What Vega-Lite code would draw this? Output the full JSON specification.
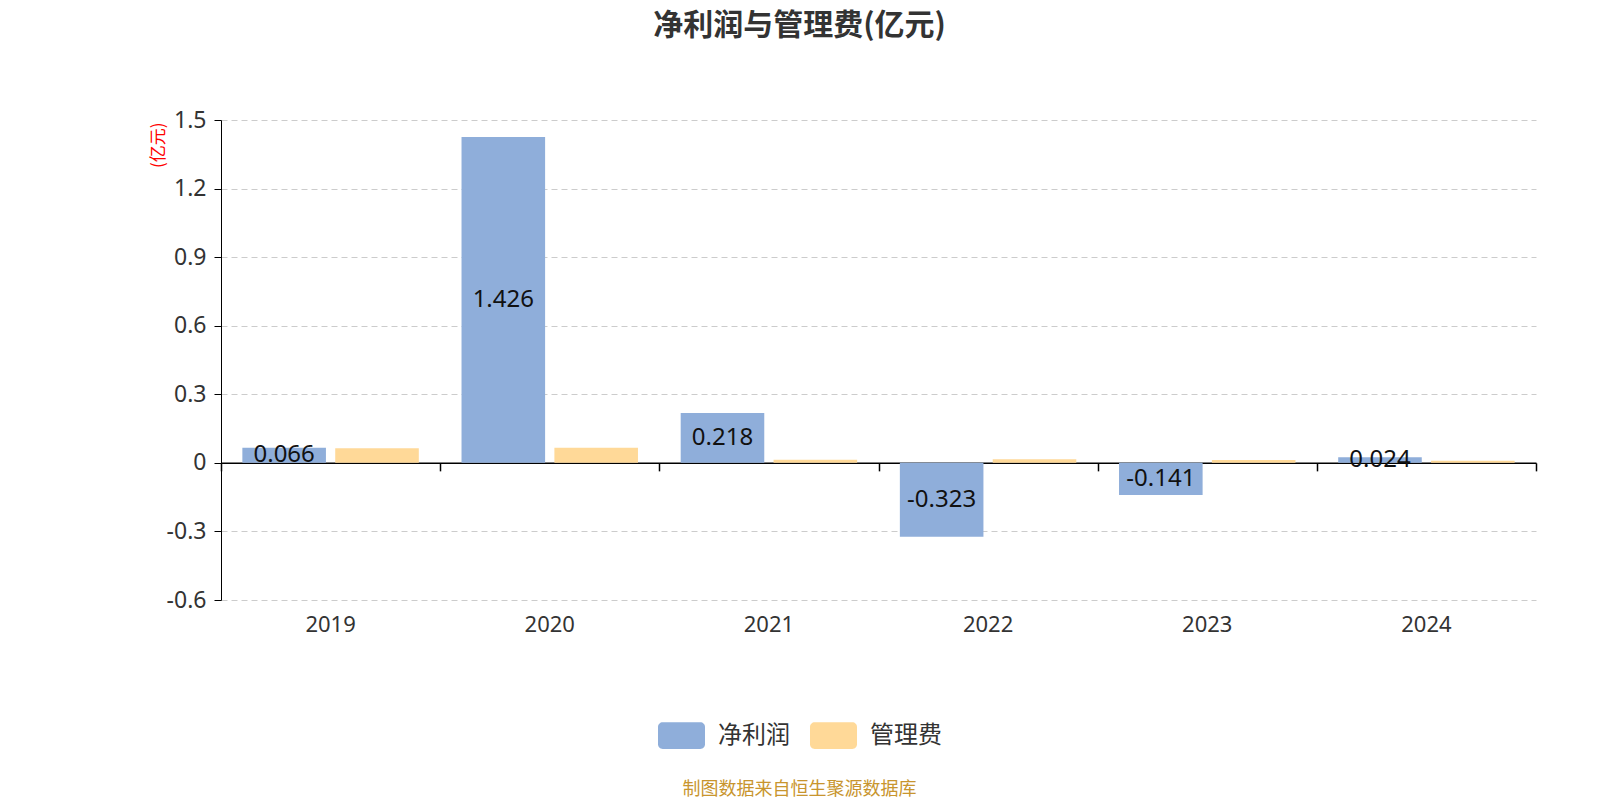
{
  "$schema": "https://vega.github.io/schema/vega-lite/v6.json",
  "width": 1315,
  "height": 480,
  "autosize": {"type": "none"},
  "padding": {"left": 221, "top": 120, "right": 64, "bottom": 200},
  "background": "white",
  "title": {
    "text": "净利润与管理费(亿元)",
    "font": "Noto Sans CJK SC",
    "fontSize": 30,
    "fontWeight": "bold",
    "color": "#333333",
    "anchor": "middle",
    "dx": -79,
    "offset": 68
  },
  "config": {
    "view": {"stroke": null},
    "font": "Noto Sans CJK SC"
  },
  "data": {
    "values": [
      {"year": "2019", "series": "净利润", "value": 0.066},
      {"year": "2019", "series": "管理费", "value": 0.064},
      {"year": "2020", "series": "净利润", "value": 1.426},
      {"year": "2020", "series": "管理费", "value": 0.066},
      {"year": "2021", "series": "净利润", "value": 0.218},
      {"year": "2021", "series": "管理费", "value": 0.014},
      {"year": "2022", "series": "净利润", "value": -0.323},
      {"year": "2022", "series": "管理费", "value": 0.016},
      {"year": "2023", "series": "净利润", "value": -0.141},
      {"year": "2023", "series": "管理费", "value": 0.013},
      {"year": "2024", "series": "净利润", "value": 0.024},
      {"year": "2024", "series": "管理费", "value": 0.009}
    ]
  },
  "layer": [
    {
      "mark": {"type": "bar"},
      "encoding": {
        "x": {
          "field": "year",
          "type": "nominal",
          "scale": {"paddingInner": 0, "paddingOuter": 0},
          "axis": {
            "orient": "bottom",
            "domain": false,
            "ticks": false,
            "labelAngle": 0,
            "labelFontSize": 22,
            "labelColor": "#333333",
            "labelPadding": 14,
            "labelFont": "Noto Sans",
            "title": "制图数据来自恒生聚源数据库",
            "titleColor": "#C8952E",
            "titleFontSize": 18,
            "titleFontWeight": "normal",
            "titleX": 578,
            "titleY": 189,
            "titleBaseline": "middle"
          }
        },
        "xOffset": {
          "field": "series",
          "type": "nominal",
          "scale": {"domain": ["净利润", "管理费"], "paddingInner": 0.1, "paddingOuter": 0.23}
        },
        "y": {
          "field": "value",
          "type": "quantitative",
          "scale": {"domain": [-0.6, 1.5], "nice": false, "zero": false},
          "axis": {
            "values": [-0.6, -0.3, 0, 0.3, 0.6, 0.9, 1.2, 1.5],
            "labelExpr": "replace(format(datum.value, '.1~f'), '−', '-')",
            "domain": true,
            "domainColor": "#000000",
            "tickColor": "#000000",
            "tickSize": 7,
            "labelPadding": 8,
            "labelFontSize": 23,
            "labelFont": "Noto Sans",
            "labelColor": "#333333",
            "grid": true,
            "gridColor": "#CCCCCC",
            "gridDash": [6, 4],
            "gridWidth": 1,
            "title": "(亿元)",
            "titleColor": "#FF0000",
            "titleFontSize": 17,
            "titleFontWeight": "normal",
            "titleX": -63,
            "titleY": 2,
            "titleAlign": "right",
            "titleBaseline": "middle",
            "titleAngle": -90
          }
        },
        "color": {
          "field": "series",
          "type": "nominal",
          "scale": {"domain": ["净利润", "管理费"], "range": ["#8FAEDA", "#FFD998"]},
          "legend": {
            "title": null,
            "orient": "none",
            "direction": "horizontal",
            "legendX": 437,
            "legendY": 592,
            "symbolType": "M-0.8,-0.57H0.8A0.2,0.2 0 0 1 1,-0.37V0.37A0.2,0.2 0 0 1 0.8,0.57H-0.8A0.2,0.2 0 0 1 -1,0.37V-0.37A0.2,0.2 0 0 1 -0.8,-0.57Z",
            "symbolSize": 2209,
            "symbolStrokeWidth": 0,
            "labelFontSize": 24,
            "labelColor": "#333333",
            "labelOffset": 13,
            "columnPadding": 20
          }
        }
      }
    },
    {
      "transform": [
        {"filter": "datum.series === '净利润'"},
        {"calculate": "datum.value / 2", "as": "mid"}
      ],
      "mark": {"type": "text", "fontSize": 24, "color": "#111111", "font": "Noto Sans", "baseline": "middle", "align": "center"},
      "encoding": {
        "x": {
          "field": "year",
          "type": "nominal",
          "axis": {
            "orient": "bottom",
            "offset": -137.14,
            "labels": false,
            "title": null,
            "domain": true,
            "domainColor": "#000000",
            "domainWidth": 1.5,
            "ticks": true,
            "tickBand": "extent",
            "tickColor": "#000000",
            "tickSize": 8,
            "tickWidth": 1.5
          }
        },
        "xOffset": {"field": "series", "type": "nominal"},
        "y": {"field": "mid", "type": "quantitative"},
        "text": {"field": "value", "type": "nominal"}
      }
    }
  ],
  "resolve": {"axis": {"x": "independent"}}
}
